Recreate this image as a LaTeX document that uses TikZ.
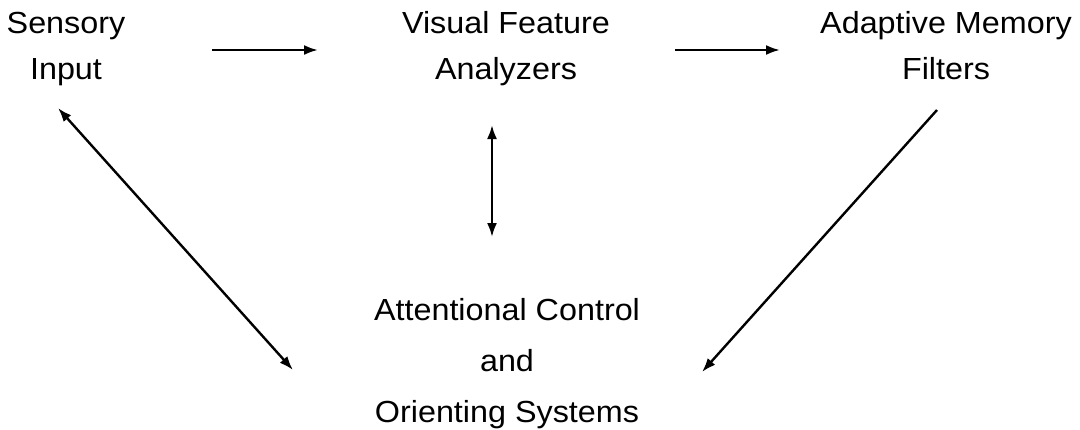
\documentclass[tikz,border=0pt]{standalone}
\usepackage{fontspec}
\setmainfont{Liberation Sans}[FakeStretch=1.06]
\usetikzlibrary{arrows.meta}
\begin{document}
\begin{tikzpicture}[x=1pt,y=-1pt,
  lab/.style={align=center,inner sep=0pt,anchor=base},
  topfont/.style={font=\fontsize{30.5}{46}\selectfont},
  botfont/.style={font=\fontsize{30.5}{51}\selectfont},
  conn/.style={line width=2.4pt,{Latex[length=14pt,width=10pt]}-{Latex[length=14pt,width=10pt]}},
  conn1/.style={line width=2.4pt,-{Latex[length=14pt,width=10pt]}}]
\useasboundingbox (0,0) rectangle (1080,429);
\node[lab,topfont] (sens) at (66,79) {Sensory\\Input};
\node[lab,topfont] (vis) at (506,79) {Visual Feature\\Analyzers};
\node[lab,topfont] (adap) at (946,79) {Adaptive Memory\\Filters};
\node[lab,botfont] (att) at (507,422) {Attentional Control\\and\\Orienting Systems};
\coordinate (a1s) at (212,50);
\coordinate (a1e) at (318,50);
\coordinate (a2s) at (675,50);
\coordinate (a2e) at (780,50);
\coordinate (v1) at (492,125);
\coordinate (v2) at (492,237);
\coordinate (l1) at (58,108);
\coordinate (l2) at (293,370);
\coordinate (r1) at (937,110);
\coordinate (r2) at (702,372);
\draw[conn1] (a1s) -- (a1e);
\draw[conn1] (a2s) -- (a2e);
\draw[conn] (v1) -- (v2);
\draw[conn] (l1) -- (l2);
\draw[conn1] (r1) -- (r2);
\end{tikzpicture}
\end{document}
